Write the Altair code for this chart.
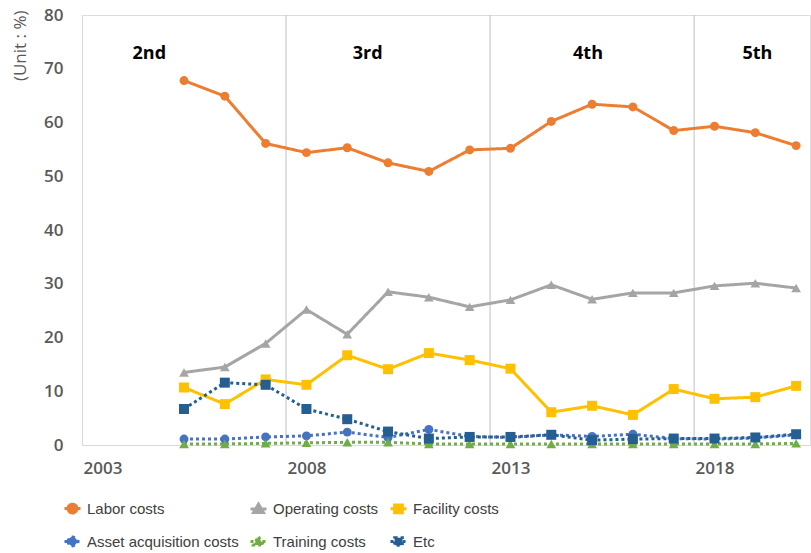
import altair as alt
import pandas as pd

years = list(range(2005, 2021))
series_names = ["Labor costs", "Operating costs", "Facility costs",
                "Asset acquisition costs", "Training costs", "Etc"]
labor = [67.8, 64.9, 56.1, 54.4, 55.3, 52.5, 50.9, 54.9, 55.2, 60.2, 63.4, 62.9, 58.5, 59.3, 58.1, 55.7]
operating = [13.5, 14.5, 18.9, 25.2, 20.6, 28.5, 27.5, 25.7, 27.0, 29.8, 27.1, 28.3, 28.3, 29.6, 30.1, 29.2]
facility = [10.7, 7.6, 12.2, 11.2, 16.7, 14.1, 17.1, 15.8, 14.2, 6.1, 7.3, 5.6, 10.4, 8.6, 8.9, 11.0]
asset = [1.1, 1.1, 1.5, 1.7, 2.4, 1.4, 2.9, 1.6, 1.4, 1.9, 1.6, 2.0, 1.2, 1.1, 1.3, 1.9]
training = [0.2, 0.2, 0.3, 0.4, 0.5, 0.5, 0.2, 0.2, 0.2, 0.2, 0.2, 0.2, 0.2, 0.2, 0.2, 0.3]
etc = [6.7, 11.6, 11.2, 6.7, 4.8, 2.5, 1.2, 1.5, 1.5, 1.9, 0.9, 1.1, 1.2, 1.2, 1.4, 2.0]

phase_labels = ["2nd", "3rd", "4th", "5th"]
phase_x = [2004.15, 2009.5, 2014.9, 2019.05]
phase_bounds = [2007.5, 2012.5, 2017.5]
x_ticks = [2003, 2008, 2013, 2018]

colors = ["#ED7D31", "#A5A5A5", "#FFC000", "#4472C4", "#70AD47", "#255E91"]
solid_series = series_names[:3]
dotted_series = series_names[3:]
dashes = [[1, 0], [1, 0], [1, 0], [3, 3], [3, 3], [3, 3]]
circle_p = "M-1,0L1,0M-0.55,0A0.55,0.55,0,1,1,0.55,0A0.55,0.55,0,1,1,-0.55,0Z"
tri_p = "M-1,0L1,0M0,-0.6L0.62,0.45L-0.62,0.45Z"
sq_p = "M-1,0L1,0M-0.48,-0.48L0.48,-0.48L0.48,0.48L-0.48,0.48Z"
legend_shapes = [circle_p, tri_p, sq_p, circle_p, tri_p, sq_p]

values = [labor, operating, facility, asset, training, etc]
rows = []
for i, (name, vals) in enumerate(zip(series_names, values)):
    for y, v in zip(years, vals):
        rows.append({"year": y, "value": v, "series": name, "order": i})
df = pd.DataFrame(rows)

FONT = "Open Sans"
LFONT = "Liberation Sans"

x_scale = alt.Scale(domain=[2002.5, 2020.34], nice=False, zero=False)
y_scale = alt.Scale(domain=[0, 80], nice=False)
x_enc = alt.X("year:Q", scale=x_scale,
              axis=alt.Axis(values=x_ticks, format="d", title=None, grid=False,
                            ticks=False, domainColor="#D9D9D9", domainWidth=1,
                            labelFont=FONT, labelFontSize=17, labelFontWeight=600,
                            labelColor="#595959", labelPadding=15))
y_enc = alt.Y("value:Q", scale=y_scale,
              axis=alt.Axis(values=[0, 10, 20, 30, 40, 50, 60, 70, 80], title="(Unit : %)",
                            grid=False, ticks=False, domainColor="#D9D9D9", domainWidth=1,
                            labelFont=FONT, labelFontSize=17, labelFontWeight=600,
                            labelColor="#595959", labelPadding=19,
                            titleFont=FONT, titleFontSize=17, titleFontWeight="normal",
                            titleColor="#595959", titleX=-62, titleY=-5,
                            titleAlign="right", titleBaseline="middle", titleAngle=-90))
# reversed domain so this (legend-less) scale is not merged with the drawn legend
color_enc = alt.Color("series:N",
                      scale=alt.Scale(domain=series_names[::-1], range=colors[::-1]),
                      legend=None)

def line_layer(names, dash):
    return alt.Chart(df).transform_filter(
        alt.FieldOneOfPredicate(field="series", oneOf=names)
    ).mark_line(strokeWidth=3, strokeDash=dash).encode(
        x=x_enc, y=y_enc, color=color_enc, detail="series:N"
    )

solid_lines = line_layer(solid_series, [1, 0])
dotted_lines = line_layer(dotted_series, [3, 3])

def pts(names, shape, size):
    return alt.Chart(df).transform_filter(
        alt.FieldOneOfPredicate(field="series", oneOf=names)
    ).mark_point(filled=True, shape=shape, size=size, opacity=1).encode(
        x="year:Q", y="value:Q", color=color_enc
    )

circles = pts(["Labor costs", "Asset acquisition costs"], "circle", 80)
tris = pts(["Operating costs", "Training costs"], "triangle-up", 95)
squares = pts(["Facility costs", "Etc"], "square", 100)

# empty layer that only drives the legend (line + marker symbols)
legend_layer = alt.Chart(df).transform_filter("false").mark_point(
    filled=True, opacity=1, strokeWidth=3
).encode(
    x="year:Q", y="value:Q",
    fill=alt.Fill("series:N", scale=alt.Scale(domain=series_names, range=colors)),
    stroke=alt.Stroke("series:N", scale=alt.Scale(domain=series_names, range=colors)),
    strokeDash=alt.StrokeDash("series:N", scale=alt.Scale(domain=series_names, range=dashes)),
    shape=alt.Shape("series:N", scale=alt.Scale(domain=series_names, range=legend_shapes),
                    legend=alt.Legend(title=None, orient="none", legendX=-19, legendY=484,
                                      direction="horizontal",
                                      columns=3, gridAlign="each", columnPadding=5, rowPadding=11,
                                      symbolSize=256, symbolStrokeWidth=3, padding=0,
                                      labelFont=LFONT, labelFontSize=15, labelColor="#404040",
                                      labelLimit=400, labelOffset=5, symbolOpacity=1)),
)

rules_df = pd.DataFrame({"x": phase_bounds})
rules = alt.Chart(rules_df).mark_rule(color="#BFBFBF", strokeWidth=1).encode(
    x=alt.X("x:Q", scale=x_scale), y=alt.value(0), y2=alt.value(430)
)

ph_df = pd.DataFrame({"label": phase_labels, "x": phase_x, "y": [72.7] * 4})
phases = alt.Chart(ph_df).mark_text(font=FONT, fontSize=18, fontWeight="bold",
                                    color="#000000", baseline="middle", align="center").encode(
    x=alt.X("x:Q", scale=x_scale), y=alt.Y("y:Q", scale=y_scale), text="label:N"
)

chart = alt.layer(rules, phases, solid_lines, dotted_lines, circles, tris, squares,
                  legend_layer).properties(
    width=728, height=430,
    autosize=alt.AutoSizeParams(type="none"),
    padding={"left": 82, "top": 15, "right": 1, "bottom": 108},
).configure_view(stroke=None).configure(background="white")

chart.save("out.html", embed_options={"renderer": "svg", "actions": False})
